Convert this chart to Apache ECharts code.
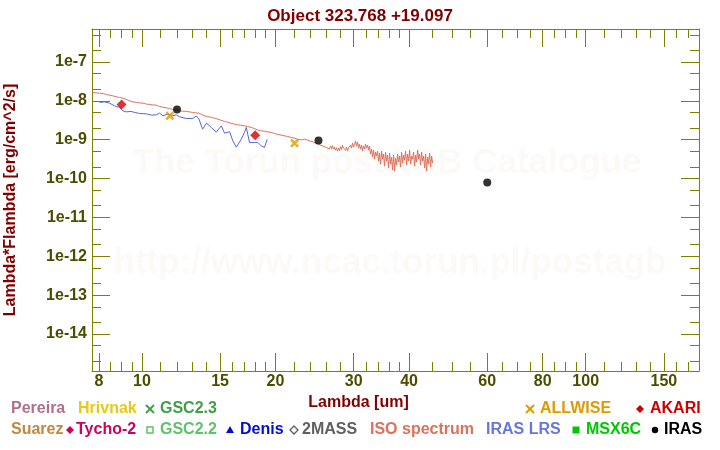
<!DOCTYPE html>
<html>
<head>
<meta charset="utf-8">
<script src="https://cdn.jsdelivr.net/npm/echarts@6/dist/echarts.min.js"></script>
<style>html,body{margin:0;padding:0;background:#fff}#c{width:720px;height:450px}</style>
</head>
<body>
<div id="c"></div>
<script>
// ---------- data ----------
const titleText = 'Object 323.768 +19.097';
const xName = 'Lambda [um]';
const yName = 'Lambda*Flambda [erg/cm^2/s]';

const xMajorTicks = [8, 10, 15, 20, 30, 40, 60, 80, 100, 150];
const xMinorTicks = [8.5, 9, 9.5, 11, 12, 13, 14, 16, 17, 18, 19, 22, 24, 26, 28, 32, 34, 36, 38,
  45, 50, 55, 65, 70, 75, 85, 90, 95, 110, 120, 130, 140, 160, 170];
const yMajorTicks = [1e-14, 1e-13, 1e-12, 1e-11, 1e-10, 1e-9, 1e-8, 1e-7];
const yMinorTicks = [2e-15, 5e-15, 2e-14, 5e-14, 2e-13, 5e-13, 2e-12, 5e-12, 2e-11, 5e-11,
  2e-10, 5e-10, 2e-9, 5e-9, 2e-8, 5e-8, 2e-7, 5e-7];

// ISO spectrum
const isoWave = [7.73, 7.87, 8.03, 8.17, 8.33, 8.46, 8.60, 8.77, 8.91, 9.06, 9.24, 9.38, 9.54, 9.73, 9.88,
  10.05, 10.25, 10.41, 10.57, 10.77, 10.96, 11.13, 11.36, 11.54, 11.73, 11.97, 12.16, 12.35, 12.61, 12.80,
  13.01, 13.21, 13.44, 13.63, 13.84, 14.06, 14.35, 14.58, 14.81, 15.04, 15.36, 15.60, 15.84, 16.17, 16.43,
  16.69, 17.03, 17.30, 17.64, 17.94, 18.22, 18.57, 18.89, 19.19, 19.56, 19.90, 20.21, 20.61, 20.96, 21.29,
  21.70, 22.08, 22.42, 22.86, 23.25, 23.62, 23.99, 24.36, 24.74, 25.13, 25.53, 25.93,
  26.47, 26.61, 26.75, 26.88, 27.02, 27.16, 27.30, 27.45, 27.59, 27.73, 27.88, 28.02, 28.17, 28.31, 28.46,
  28.61, 28.76, 28.91, 29.06, 29.21, 29.37, 29.52, 29.67, 29.83, 29.98, 30.14, 30.30, 30.45, 30.61, 30.77,
  30.93, 31.09, 31.26, 31.42, 31.58, 31.75, 31.91, 32.08, 32.25, 32.41, 32.58, 32.75, 32.92, 33.09, 33.27,
  33.44, 33.61, 33.79, 33.96, 34.14, 34.32, 34.50, 34.68, 34.86, 35.04, 35.22, 35.40, 35.59, 35.77, 35.96,
  36.15, 36.34, 36.53, 36.72, 36.91, 37.10, 37.29, 37.49, 37.68, 37.88, 38.08, 38.27, 38.47, 38.67, 38.88,
  39.08, 39.28, 39.49, 39.69, 39.90, 40.11, 40.32, 40.53, 40.74, 40.95, 41.16, 41.38, 41.59, 41.81, 42.03,
  42.25, 42.47, 42.69, 42.91, 43.13, 43.36, 43.58, 43.81, 44.04, 44.27, 44.50, 44.73, 44.96, 45.20];
const isoFlux = [1.645e-8, 1.61e-8, 1.58e-8, 1.55e-8, 1.44e-8, 1.40e-8, 1.345e-8, 1.27e-8, 1.22e-8, 1.17e-8, 1.086e-8, 1.0e-8, 9.42e-9, 9.09e-9, 8.88e-9,
  8.72e-9, 8.22e-9, 8.08e-9, 7.89e-9, 7.75e-9, 7.18e-9, 6.88e-9, 6.60e-9, 6.37e-9, 6.01e-9, 5.76e-9, 5.53e-9, 5.43e-9, 5.34e-9, 5.21e-9,
  5.03e-9, 4.91e-9, 4.83e-9, 4.47e-9, 4.11e-9, 3.97e-9, 3.74e-9, 3.59e-9, 3.38e-9, 3.19e-9, 2.95e-9, 2.83e-9, 2.67e-9, 2.51e-9, 2.41e-9,
  2.37e-9, 2.27e-9, 2.19e-9, 2.07e-9, 1.93e-9, 1.79e-9, 1.69e-9, 1.66e-9, 1.59e-9, 1.54e-9, 1.45e-9, 1.37e-9, 1.31e-9, 1.26e-9, 1.21e-9,
  1.14e-9, 1.10e-9, 1.03e-9, 9.92e-10, 1.03e-9, 9.74e-10, 9.19e-10, 8.66e-10, 8.01e-10, 7.37e-10, 6.95e-10, 6.44e-10,
  5.72e-10, 6.83e-10, 5.89e-10, 7.04e-10, 5.72e-10, 6.44e-10, 5.39e-10, 6.25e-10, 5.08e-10, 6.07e-10, 5.23e-10, 6.63e-10, 5.55e-10, 7.25e-10, 6.07e-10,
  6.83e-10, 5.39e-10, 6.44e-10, 5.08e-10, 6.07e-10, 5.55e-10, 7.25e-10, 6.07e-10, 8.16e-10, 6.44e-10, 7.69e-10, 9.35e-10, 6.83e-10, 8.66e-10, 6.07e-10,
  7.69e-10, 5.72e-10, 7.25e-10, 5.08e-10, 6.83e-10, 5.72e-10, 7.69e-10, 6.07e-10, 7.25e-10, 5.39e-10, 6.83e-10, 4.25e-10, 5.72e-10, 3.56e-10, 5.39e-10,
  3.16e-10, 4.79e-10, 3.78e-10, 5.08e-10, 2.81e-10, 4.51e-10, 2.35e-10, 5.08e-10, 3.16e-10, 4.25e-10, 2.09e-10, 4.79e-10, 2.81e-10, 4.01e-10, 1.86e-10,
  4.51e-10, 2.35e-10, 3.56e-10, 1.65e-10, 4.01e-10, 1.55e-10, 3.36e-10, 2.22e-10, 4.25e-10, 2.65e-10, 3.78e-10, 1.97e-10, 4.79e-10, 2.50e-10, 4.01e-10,
  2.98e-10, 5.08e-10, 2.22e-10, 4.25e-10, 2.81e-10, 5.39e-10, 2.35e-10, 3.78e-10, 3.16e-10, 4.79e-10, 2.09e-10, 4.01e-10, 2.65e-10, 5.39e-10, 3.16e-10,
  4.25e-10, 2.22e-10, 4.79e-10, 2.81e-10, 3.78e-10, 1.86e-10, 4.25e-10, 1.55e-10, 3.56e-10, 2.35e-10, 4.51e-10, 1.97e-10, 3.78e-10, 2.50e-10];

// IRAS LRS
const lrsWave = [8.03, 8.24, 8.46, 8.68, 8.91, 9.06, 9.22, 9.46, 9.63, 9.88, 10.23, 10.50, 10.77, 10.96, 11.15,
  11.44, 11.74, 11.95, 12.16, 12.59, 13.03, 13.25, 13.42, 13.70, 13.99, 14.35, 14.71, 15.10, 15.36, 15.76,
  16.03, 16.32, 16.75, 17.03, 17.19, 17.48, 17.94, 18.25, 18.57, 18.89, 19.16];
const lrsFlux = [9.09e-9, 9.42e-9, 8.72e-9, 7.44e-9, 6.76e-9, 5.53e-9, 5.21e-9, 5.34e-9, 5.03e-9, 4.74e-9, 4.63e-9, 4.29e-9, 4.36e-9, 4.83e-9, 4.11e-9,
  4.55e-9, 4.11e-9, 4.36e-9, 3.88e-9, 3.52e-9, 3.52e-9, 4.04e-9, 3.59e-9, 1.87e-9, 2.67e-9, 2.04e-9, 1.57e-9, 2.27e-9, 1.47e-9, 1.61e-9,
  9.35e-10, 6.44e-10, 1.03e-9, 1.54e-9, 2.07e-9, 8.50e-10, 8.50e-10, 8.50e-10, 6.95e-10, 6.32e-10, 1.03e-9];

// photometry
const akariWave = [9, 18];
const akariFlux = [8.08e-9, 1.31e-9];
const allwiseWave = [11.56, 22.08];
const allwiseFlux = [4.11e-9, 8.16e-10];
const irasWave = [12, 25, 60];
const irasFlux = [6.01e-9, 9.57e-10, 7.94e-11];

// ---------- chart ----------
const FONT = '"Liberation Sans", Arial, Helvetica, sans-serif';
const AX = '#808000';
const LBL = '#4d4d00';
const DARKRED = '#800000';
const zip = (a, b) => a.map((v, i) => [v, b[i]]);
const crossPath = 'path://M0,2L2,0L5,3L8,0L10,2L7,5L10,8L8,10L5,7L2,10L0,8L3,5Z';

function xAx(pos, ticks, len, major, extra) {
  return Object.assign({
    type: 'log', logBase: 10, min: 7.72, max: 180, position: pos, gridIndex: 0,
    axisLine: { show: major, onZero: false, lineStyle: { color: AX, width: 1 } },
    axisTick: { show: true, inside: true, length: len, customValues: ticks, lineStyle: { color: AX, width: 1 } },
    axisLabel: { show: false },
    splitLine: { show: false }, minorTick: { show: false }
  }, extra || {});
}
function yAx(pos, ticks, len, major, extra) {
  return Object.assign({
    type: 'log', logBase: 10, min: 1.117e-15, max: 7.06e-7, position: pos, gridIndex: 0,
    axisLine: { show: major, onZero: false, lineStyle: { color: AX, width: 1 } },
    axisTick: { show: true, inside: true, length: len, customValues: ticks, lineStyle: { color: AX, width: 1 } },
    axisLabel: { show: false },
    splitLine: { show: false }, minorTick: { show: false }
  }, extra || {});
}

const legendItems = [
  // row 1
  { t: 'Pereira', x: 11, y: 409, c: '#b0708a' },
  { t: 'Hrivnak', x: 78, y: 409, c: '#e8c818' },
  { t: 'GSC2.3', x: 160, y: 409, c: '#40a048', s: 'x', sx: 150 },
  { t: 'ALLWISE', x: 540, y: 409, c: '#e09a00', s: 'x', sx: 530 },
  { t: 'AKARI', x: 650, y: 409, c: '#d00000', s: 'd', sx: 640 },
  // row 2
  { t: 'Suarez', x: 11, y: 430, c: '#c08840' },
  { t: 'Tycho-2', x: 76, y: 430, c: '#cc0066', s: 'd', sx: 70 },
  { t: 'GSC2.2', x: 160, y: 430, c: '#5cc46a', s: 'sq', sx: 150 },
  { t: 'Denis', x: 240, y: 430, c: '#0010d0', s: 'tri', sx: 230 },
  { t: '2MASS', x: 302, y: 430, c: '#606060', s: 'od', sx: 294 },
  { t: 'ISO spectrum', x: 370, y: 430, c: '#e0705a' },
  { t: 'IRAS LRS', x: 486, y: 430, c: '#6677dd' },
  { t: 'MSX6C', x: 586, y: 430, c: '#00c800', s: 'fsq', sx: 576 },
  { t: 'IRAS', x: 664, y: 430, c: '#000000', s: 'dot', sx: 655 }
];
const graphics = [];
graphics.push({ type: 'text', x: 387, y: 163, z: 1, silent: true,
  style: { text: 'The Torun postAGB Catalogue', fill: '#fcfaf6', font: 'bold 35px ' + FONT, align: 'center', verticalAlign: 'middle', textAlign: 'center', textVerticalAlign: 'middle' } });
graphics.push({ type: 'text', x: 390, y: 263, z: 1, silent: true,
  style: { text: 'http://www.ncac.torun.pl/postagb', fill: '#fcfaf6', font: 'bold 35px ' + FONT, align: 'center', verticalAlign: 'middle', textAlign: 'center', textVerticalAlign: 'middle' } });
legendItems.forEach(it => {
  graphics.push({ type: 'text', x: it.x, y: it.y, style: { text: it.t, fill: it.c, font: 'bold 16px ' + FONT, align: 'left', verticalAlign: 'middle', textAlign: 'left', textVerticalAlign: 'middle' } });
  const cx = it.sx, cy = it.y;
  if (it.s === 'x') {
    graphics.push({ type: 'polyline', shape: { points: [[cx - 4, cy - 4], [cx + 4, cy + 4]] }, style: { stroke: it.c, lineWidth: 2 } });
    graphics.push({ type: 'polyline', shape: { points: [[cx + 4, cy - 4], [cx - 4, cy + 4]] }, style: { stroke: it.c, lineWidth: 2 } });
  } else if (it.s === 'd') {
    graphics.push({ type: 'polygon', shape: { points: [[cx, cy - 4], [cx + 4, cy], [cx, cy + 4], [cx - 4, cy]] }, style: { fill: it.c } });
  } else if (it.s === 'od') {
    graphics.push({ type: 'polygon', shape: { points: [[cx, cy - 4], [cx + 4, cy], [cx, cy + 4], [cx - 4, cy]] }, style: { fill: 'none', stroke: it.c, lineWidth: 1.3 } });
  } else if (it.s === 'sq') {
    graphics.push({ type: 'rect', shape: { x: cx - 3, y: cy - 3, width: 6, height: 6 }, style: { fill: 'none', stroke: it.c, lineWidth: 1.5 } });
  } else if (it.s === 'fsq') {
    graphics.push({ type: 'rect', shape: { x: cx - 3.5, y: cy - 3.5, width: 7, height: 7 }, style: { fill: it.c } });
  } else if (it.s === 'tri') {
    graphics.push({ type: 'polygon', shape: { points: [[cx, cy - 4], [cx + 4, cy + 3], [cx - 4, cy + 3]] }, style: { fill: it.c } });
  } else if (it.s === 'dot') {
    graphics.push({ type: 'circle', shape: { cx: cx, cy: cy, r: 3.2 }, style: { fill: it.c } });
  }
});

const chart = echarts.init(document.getElementById('c'), null, { renderer: 'canvas' });
chart.setOption({
  animation: false,
  backgroundColor: '#ffffff',
  textStyle: { fontFamily: FONT },
  title: { text: titleText, left: 'center', top: 3,
    textStyle: { color: DARKRED, fontWeight: 'bold', fontSize: 17, fontFamily: FONT } },
  grid: { left: 92, top: 29, width: 607, height: 342, containLabel: false, outerBoundsMode: 'none' },
  xAxis: [
    xAx('bottom', xMajorTicks, 18, true, {
      axisLabel: { show: true, customValues: xMajorTicks, color: LBL, fontWeight: 'bold', fontSize: 16, fontFamily: FONT, margin: 3,
        formatter: v => String(Math.round(v)) },
      name: xName, nameLocation: 'middle', nameGap: 24,
      nameTextStyle: { color: DARKRED, fontWeight: 'bold', fontSize: 16, fontFamily: FONT, padding: [0, 74, 0, 0] }
    }),
    xAx('bottom', xMinorTicks, 9, false),
    xAx('top', xMajorTicks, 18, true),
    xAx('top', xMinorTicks, 9, false)
  ],
  yAxis: [
    yAx('left', yMajorTicks, 18, true, {
      axisLabel: { show: true, customValues: yMajorTicks, color: LBL, fontWeight: 'bold', fontSize: 16, fontFamily: FONT, margin: 5,
        formatter: v => '1e' + Math.round(Math.log10(v)) },
      name: yName, nameLocation: 'middle', nameGap: 73, nameRotate: 90,
      nameTextStyle: { color: DARKRED, fontWeight: 'bold', fontSize: 16, fontFamily: FONT }
    }),
    yAx('left', yMinorTicks, 9, false),
    yAx('right', yMajorTicks, 18, true),
    yAx('right', yMinorTicks, 9, false)
  ],
  series: [
    { name: 'ISO spectrum', type: 'line', data: zip(isoWave, isoFlux), showSymbol: false, symbol: 'none',
      lineStyle: { color: '#e0705a', width: 1 }, itemStyle: { color: '#e0705a' }, z: 3 },
    { name: 'IRAS LRS', type: 'line', data: zip(lrsWave, lrsFlux), showSymbol: false, symbol: 'none',
      lineStyle: { color: '#5566dd', width: 1 }, itemStyle: { color: '#5566dd' }, z: 4 },
    { name: 'AKARI', type: 'scatter', data: zip(akariWave, akariFlux), symbol: 'diamond', symbolSize: 10,
      itemStyle: { color: '#d00000' }, z: 5 },
    { name: 'ALLWISE', type: 'scatter', data: zip(allwiseWave, allwiseFlux), symbol: crossPath, symbolSize: 9,
      itemStyle: { color: '#e09a00' }, z: 5 },
    { name: 'IRAS', type: 'scatter', data: zip(irasWave, irasFlux), symbol: 'circle', symbolSize: 8,
      itemStyle: { color: '#000000' }, z: 6 }
  ],
  graphic: graphics
});
</script>
</body>
</html>
